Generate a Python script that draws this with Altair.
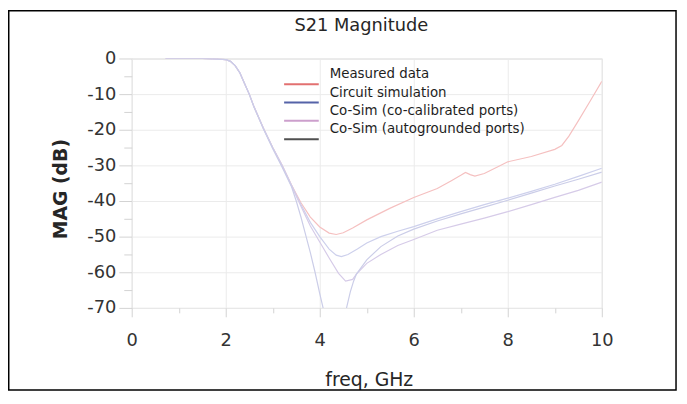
import altair as alt
import pandas as pd

# ---- data ----
freq_meas = [0.72, 1.0, 1.5, 1.8, 2.0, 2.1, 2.2, 2.3, 2.4, 2.5, 2.6, 2.8, 3.0, 3.2, 3.4, 3.6, 3.8, 4.0,
             4.2, 4.35, 4.5, 4.7, 5.0, 5.5, 6.0, 6.5, 6.8, 7.0, 7.1, 7.2, 7.3, 7.5, 7.8, 8.0, 8.5, 9.0,
             9.15, 9.3, 9.5, 9.75, 10.0]
mag_meas = [0, 0, 0, -0.1, -0.3, -0.8, -2, -4, -7, -10, -13.5, -19.5, -25, -30, -35.5, -40.5, -44.5,
            -47.3, -49, -49.4, -48.9, -47.6, -45.3, -42, -39, -36.5, -34.3, -32.8, -32, -32.6, -33,
            -32.3, -30.3, -29, -27.5, -25.5, -24.4, -21.8, -17.5, -12, -6.4]

freq_circ = [0.72, 1.0, 1.5, 1.8, 2.0, 2.1, 2.2, 2.3, 2.4, 2.5, 2.6, 2.8, 3.0, 3.2, 3.4, 3.6, 3.8, 4.0,
             4.2, 4.35, 4.46, 4.6, 4.8, 5.0, 5.3, 5.66, 6.0, 6.5, 7.0, 7.5, 8.0, 8.5, 9.0, 9.5, 10.0]
mag_circ = [0, 0, 0, -0.1, -0.3, -0.8, -2, -4, -7, -10, -13.5, -19.5, -25, -30, -35.6, -41, -46, -50,
            -53.5, -55.2, -55.6, -55, -53.5, -51.8, -50, -48.5, -47.2, -45, -43, -41, -39.2, -37.3,
            -35.3, -33.1, -30.8]

freq_cocal = [0.72, 1.0, 1.5, 1.8, 2.0, 2.1, 2.2, 2.3, 2.4, 2.5, 2.6, 2.8, 3.0, 3.2, 3.4, 3.6, 3.8, 4.0,
              4.2, 4.4, 4.55, 4.7, 4.78, 5.0, 5.3, 5.66, 6.0, 6.5, 7.0, 7.5, 8.0, 8.5, 9.0, 9.5, 10.0]
mag_cocal = [0, 0, 0, -0.1, -0.3, -0.8, -2, -4, -7, -10, -13.5, -19.6, -25.1, -30.2, -35.8, -41.5,
             -47, -51.5, -56, -60.3, -62.5, -62, -60.5, -57.5, -55, -52.5, -50.8, -48.2, -46.5, -44.8,
             -43, -41, -39, -37, -34.7]

freq_auto = [0.72, 1.0, 1.5, 1.8, 2.0, 2.1, 2.2, 2.3, 2.4, 2.5, 2.6, 2.8, 3.0, 3.2, 3.4, 3.5, 3.6, 3.7,
             3.8, 3.9, 4.0, 4.08, 4.15, 4.52, 4.57, 4.65, 4.72, 4.78, 5.0, 5.3, 5.66, 6.0, 6.5, 7.0,
             7.5, 8.0, 8.5, 9.0, 9.5, 10.0]
mag_auto = [0, 0, 0, -0.1, -0.3, -0.8, -2, -4, -7, -10, -13.6, -19.7, -25.3, -30.5, -36, -40, -44.5,
            -49.5, -54.5, -60, -66, -70.5, -76, -76, -70, -65.5, -62.5, -60.5, -56.5, -52.8, -49.8,
            -47.9, -45.6, -43.6, -41.7, -39.8, -37.8, -35.8, -33.9, -31.9]

series_names = ["Measured data", "Circuit simulation", "Co-Sim (co-calibrated ports)",
                "Co-Sim (autogrounded ports)"]
line_colors = ["#f5c0c0", "#cdd0ec", "#d6cbe8", "#cbcde8"]
legend_colors = ["#e27070", "#5563a8", "#cc9fcc", "#505050"]

# tick positions: majors are labelled, the others are minor ticks
x_ticks = [0, 1, 2, 3, 4, 5, 6, 7, 8, 9, 10]
y_ticks = [0, -5, -10, -15, -20, -25, -30, -35, -40, -45, -50, -55, -60, -65, -70]

title_text = "S21 Magnitude"
x_title = "freq, GHz"
y_title = "MAG (dB)"

# ---- build tables ----
rows = []
for name, fr, mg in zip(series_names,
                        [freq_meas, freq_circ, freq_cocal, freq_auto],
                        [mag_meas, mag_circ, mag_cocal, mag_auto]):
    for i, (f, m) in enumerate(zip(fr, mg)):
        rows.append({"series": name, "freq": f, "mag": m, "order": i})
df = pd.DataFrame(rows)

FONT = "DejaVu Sans"
W, H = 475, 252
PL, PT, PR, PB = 125, 49, 78, 85

xs = alt.Scale(domain=[0, 10], nice=False, zero=False)
ys = alt.Scale(domain=[-70, 0], nice=False, zero=False)

x_minor_test = "datum.value % 2 != 0"
y_minor_test = "datum.value % 10 != 0"

lines = alt.Chart(df).mark_line(strokeWidth=1.2, clip=True).encode(
    x=alt.X("freq:Q", scale=xs,
            axis=alt.Axis(values=x_ticks, title=None, labelPadding=15, labelOverlap=False,
                          labelExpr="datum.value % 2 == 0 ? '' + datum.value : ''",
                          tickSize={"condition": {"test": x_minor_test, "value": 5}, "value": 9},
                          gridOpacity={"condition": {"test": x_minor_test, "value": 0}, "value": 1})),
    y=alt.Y("mag:Q", scale=ys,
            axis=alt.Axis(values=y_ticks, title=None, labelPadding=3, labelOverlap=False,
                          labelExpr="datum.value % 10 == 0 ? '' + datum.value : ''",
                          tickSize={"condition": {"test": y_minor_test, "value": 8}, "value": 13},
                          gridOpacity={"condition": {"test": y_minor_test, "value": 0}, "value": 1})),
    color=alt.Color("series:N", scale=alt.Scale(domain=series_names, range=line_colors), legend=None),
    order="order:Q",
    detail="series:N",
)

def label(txt, x, y, size, weight="normal", angle=0, align="center", color="#262626"):
    return alt.Chart(pd.DataFrame({"t": [txt]})).mark_text(
        fontSize=size, fontWeight=weight, angle=angle, align=align, baseline="middle",
        color=color, font=FONT, clip=False).encode(
        text="t:N", x=alt.value(x), y=alt.value(y))

texts = [
    label(title_text, 232, -33, 18),
    label(x_title, 240, 325, 19),
    label(y_title, -71, 132, 19, weight="bold", angle=270),
]

legend_layers = []
for i, (name, col) in enumerate(zip(series_names, legend_colors)):
    ly = 26 + i * 18.5
    legend_layers.append(
        alt.Chart(pd.DataFrame({"n": [name]})).mark_rule(color=col, strokeWidth=2, clip=False).encode(
            x=alt.value(154), x2=alt.value(189), y=alt.value(ly)))
    legend_layers.append(label(name, 200, ly - 10, 13.5, align="left", color="#1e1e1e"))

border = alt.Chart(pd.DataFrame({"b": [1]})).mark_rect(
    fillOpacity=0, stroke="#000000", strokeWidth=1.5, clip=False).encode(
    x=alt.value(-PL + 0.75), x2=alt.value(550), y=alt.value(-PT + 0.75), y2=alt.value(335))

chart = alt.layer(lines, *texts, *legend_layers, border).properties(
    width=W, height=H,
    padding={"left": PL, "top": PT, "right": PR, "bottom": PB},
    autosize=alt.AutoSizeParams(type="none"),
    background="white",
).configure_view(
    stroke="#d6d6d6", strokeWidth=1
).configure_axis(
    domain=False, grid=True, gridColor="#ebebeb", tickColor="#d2d2d2",
    labelFont=FONT, labelFontSize=18, labelColor="#333333", labelOverlap=False,
).configure_axisX(labelFlush=False)

chart.save("out.html", embed_options={"renderer": "svg", "actions": False})
